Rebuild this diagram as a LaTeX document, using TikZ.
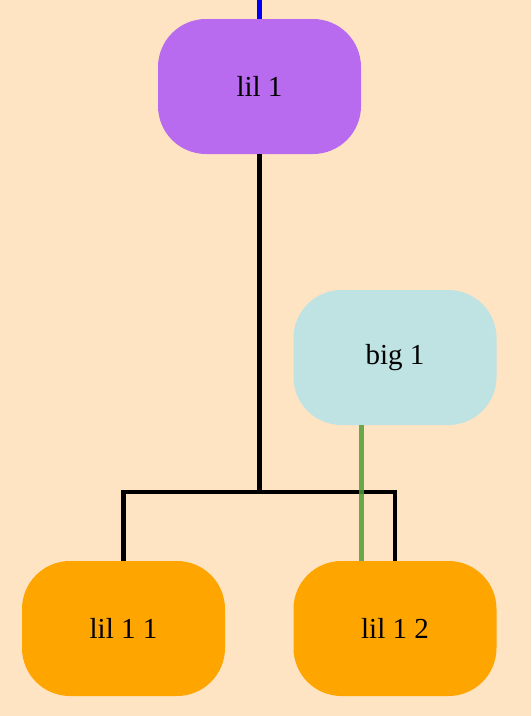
\documentclass[tikz,border=0pt]{standalone}
\usepackage{fontspec}
\setmainfont{Liberation Serif}
\definecolor{bg}{HTML}{FFE4C4}
\definecolor{lilpurple}{HTML}{B86BEF}
\definecolor{bigblue}{HTML}{BFE2E3}
\definecolor{liorange}{HTML}{FFA500}
\definecolor{edgegreen}{HTML}{4E9E38}
\begin{document}
\begin{tikzpicture}[x=1pt,y=-1pt,
  box/.style={rounded corners=48pt, minimum width=203pt, minimum height=135pt, inner sep=0pt,
    font=\fontsize{29}{34}\selectfont, text=black},
  edge/.style={draw=black, line width=4.5pt},
  gedge/.style={draw=edgegreen, line width=5pt, opacity=0.85},
  bedge/.style={draw=blue, line width=5pt}]
\fill[bg] (0,0) rectangle (531,716);
\useasboundingbox (0,0) rectangle (531,716);
\node[box, fill=lilpurple] (l1) at (259.5,86.5) {lil 1};
\node[box, fill=bigblue] (b1) at (395,357.5) {big 1};
\node[box, fill=liorange] (l11) at (123.5,628.5) {lil 1 1};
\node[box, fill=liorange] (l12) at (395,628.5) {lil 1 2};
\coordinate (top) at (259.5,0);
\coordinate (bar) at (259.5,492);
\draw[bedge] (top) -- (l1.north);
\draw[edge] (l1.south) -- (bar);
\draw[edge, line join=miter] (l11.north) -- (l11.north |- bar) -- (l12.north |- bar) -- (l12.north);
\draw[gedge] ([xshift=-33.5pt]b1.south) -- ([xshift=-33.5pt]b1.south |- l12.north);
\end{tikzpicture}
\end{document}
